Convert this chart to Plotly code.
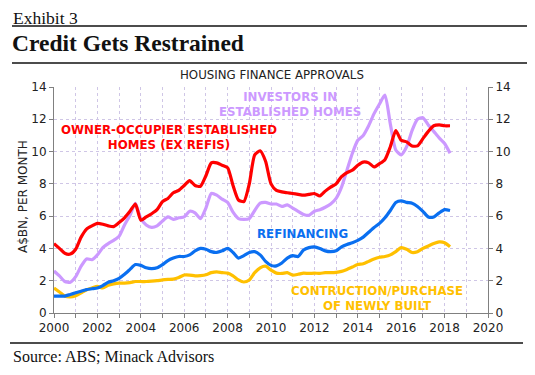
import plotly.graph_objects as go

# ---------------- data (quarterly) ----------------
quarters = [2000 + 0.25 * i for i in range(74)]  # 2000.00 ... 2018.25

owner_occupier = [4.3, 4.0, 3.7, 3.65, 3.95, 4.7, 5.2, 5.4, 5.55, 5.5, 5.4, 5.35,
                  5.6, 5.9, 6.3, 6.75, 5.75, 5.95, 6.15, 6.4, 6.9, 7.1, 7.45, 7.6,
                  7.9, 8.2, 7.9, 7.85, 8.5, 9.3, 9.3, 9.15, 9.0, 7.9, 7.0, 6.9,
                  8.0, 9.8, 10.05, 9.4, 8.0, 7.6, 7.5, 7.45, 7.4, 7.35, 7.3, 7.35,
                  7.4, 7.25, 7.55, 7.8, 8.0, 8.45, 8.7, 8.85, 9.15, 9.35, 9.3, 9.05,
                  9.25, 9.5, 10.3, 11.3, 10.7, 10.6, 10.35, 10.35, 10.8, 11.25, 11.6, 11.65,
                  11.6, 11.6]

investors = [2.6, 2.3, 1.95, 1.9, 2.25, 2.9, 3.35, 3.3, 3.6, 4.05, 4.3, 4.5,
             4.75, 5.45, 6.05, 6.8, 5.85, 5.45, 5.3, 5.4, 5.7, 5.95, 5.8, 5.9,
             5.95, 6.3, 6.2, 5.85, 6.5, 7.4, 7.3, 7.05, 6.85, 6.25, 5.85, 5.8,
             5.85, 6.35, 6.8, 6.85, 6.75, 6.75, 6.6, 6.7, 6.5, 6.3, 6.1, 6.05,
             6.3, 6.4, 6.55, 6.75, 7.1, 7.8, 8.85, 9.9, 10.7, 11.0, 11.6, 12.35,
             12.95, 13.5, 11.7, 10.1, 9.8, 10.3, 11.3, 12.0, 12.1, 11.65, 11.25, 10.85,
             10.5, 9.9]

refinancing = [1.05, 1.05, 1.05, 1.15, 1.25, 1.35, 1.45, 1.5, 1.55, 1.7, 1.9, 2.0,
               2.15, 2.4, 2.7, 3.0, 2.95, 2.8, 2.75, 2.8, 3.0, 3.25, 3.4, 3.5,
               3.5, 3.6, 3.85, 4.0, 3.95, 3.8, 3.75, 3.85, 4.0, 3.75, 3.4, 3.55,
               3.75, 3.8, 3.6, 3.2, 2.95, 2.92, 3.1, 3.4, 3.55, 3.5, 3.9, 4.05,
               4.1, 4.0, 3.85, 3.8, 3.85, 4.1, 4.25, 4.35, 4.5, 4.7, 5.0, 5.3,
               5.55, 5.9, 6.35, 6.85, 6.95, 6.85, 6.8, 6.6, 6.3, 5.95, 5.95, 6.2,
               6.4, 6.35]

construction = [1.55, 1.3, 1.05, 1.0, 1.07, 1.25, 1.44, 1.55, 1.65, 1.55, 1.72, 1.8,
                1.85, 1.85, 1.88, 1.95, 1.95, 1.95, 1.97, 2.0, 2.05, 2.08, 2.1, 2.2,
                2.35, 2.35, 2.3, 2.32, 2.37, 2.5, 2.55, 2.5, 2.47, 2.3, 2.05, 1.92,
                2.05, 2.5, 2.8, 2.9, 2.65, 2.47, 2.45, 2.5, 2.35, 2.4, 2.47, 2.45,
                2.47, 2.45, 2.5, 2.5, 2.52, 2.58, 2.7, 2.85, 3.0, 3.05, 3.2, 3.35,
                3.45, 3.5, 3.6, 3.8, 4.05, 3.95, 3.75, 3.8, 4.0, 4.15, 4.3, 4.4,
                4.35, 4.1]

year_ticks = list(range(2000, 2021))
year_labels = [str(y) if y % 2 == 0 else "" for y in year_ticks]
y_ticks = [0, 2, 4, 6, 8, 10, 12, 14]

series_names = ["Owner-occupier established homes (ex refis)",
                "Investors in established homes",
                "Refinancing",
                "Construction/purchase of newly built"]

RED = "#FF0000"
PURPLE = "#CC99FF"
BLUE = "#0A6FF0"
YELLOW = "#FFC000"

# ---------------- geometry helpers (page pixels; body has 8px margin) ----------------
OFF = 8
W, H = 535 - OFF, 375 - OFF
L, R, T, B = 54, 488, 87, 313
PW, PH = R - L, B - T


def px(x):
    return (x - L) / PW


def py(y):
    return (B - y) / PH


fig = go.Figure()

for vals, col, name in [(investors, PURPLE, series_names[1]),
                        (construction, YELLOW, series_names[3]),
                        (refinancing, BLUE, series_names[2]),
                        (owner_occupier, RED, series_names[0])]:
    fig.add_trace(go.Scatter(x=quarters, y=vals, mode="lines", name=name,
                             line=dict(color=col, width=3.2, shape="spline", smoothing=0.6),
                             hoverinfo="x+y"))

# invisible trace to activate the right axis
fig.add_trace(go.Scatter(x=quarters, y=owner_occupier, yaxis="y2", mode="lines",
                         line=dict(color="rgba(0,0,0,0)", width=0), showlegend=False,
                         hoverinfo="skip"))

AXC = "#808080"
GRID = "#CFC6E6"
tickfont = dict(family="DejaVu Sans", size=12, color="#222222")

fig.update_layout(
    width=W, height=H,
    margin=dict(l=L - OFF, r=W - (R - OFF), t=T - OFF, b=H - (B - OFF)),
    paper_bgcolor="white", plot_bgcolor="white",
    showlegend=False,
    xaxis=dict(range=[2000, 2020], tickvals=year_ticks, ticktext=year_labels,
               showgrid=True, gridcolor=GRID, griddash="dot", gridwidth=1,
               showline=True, linecolor=AXC, linewidth=1,
               ticks="outside", ticklen=4, tickcolor=AXC, tickfont=tickfont,
               zeroline=False),
    yaxis=dict(range=[0, 14], tickvals=y_ticks,
               showgrid=True, gridcolor=GRID, griddash="dot", gridwidth=1,
               showline=True, linecolor=AXC, linewidth=1,
               ticks="outside", ticklen=4, tickcolor=AXC, tickfont=tickfont,
               zeroline=False),
    yaxis2=dict(range=[0, 14], tickvals=y_ticks, overlaying="y", side="right",
                showgrid=False, showline=True, linecolor=AXC, linewidth=1,
                ticks="outside", ticklen=4, tickcolor=AXC, tickfont=tickfont,
                zeroline=False),
)

annotations = [
    dict(text="Exhibit 3", x=px(11), y=py(17.5), xanchor="left", yanchor="middle",
         font=dict(family="Liberation Serif", size=17.5, color="#111111")),
    dict(text="<b>Credit Gets Restrained</b>", x=px(10), y=py(43), xanchor="left", yanchor="middle",
         font=dict(family="Liberation Serif", size=23.5, color="#111111")),
    dict(text="HOUSING FINANCE APPROVALS", x=px(272), y=py(74.5), xanchor="center", yanchor="middle",
         font=dict(family="DejaVu Sans", size=11.8, color="#222222")),
    dict(text="A$BN, PER MONTH", x=px(23), y=py(197), xanchor="center", yanchor="middle",
         textangle=-90, font=dict(family="DejaVu Sans", size=12, color="#222222")),
    dict(text="Source: ABS; Minack Advisors", x=px(11), y=py(356), xanchor="left", yanchor="middle",
         font=dict(family="Liberation Serif", size=16, color="#111111")),
    dict(text="<b>OWNER-OCCUPIER ESTABLISHED<br>HOMES (EX REFIS)</b>", x=px(169), y=py(137),
         xanchor="center", yanchor="middle",
         font=dict(family="DejaVu Sans", size=11.8, color=RED)),
    dict(text="<b>INVESTORS IN<br>ESTABLISHED HOMES</b>", x=px(290), y=py(104),
         xanchor="center", yanchor="middle",
         font=dict(family="DejaVu Sans", size=11.8, color=PURPLE)),
    dict(text="<b>REFINANCING</b>", x=px(302), y=py(234),
         xanchor="center", yanchor="middle",
         font=dict(family="DejaVu Sans", size=11.8, color=BLUE)),
    dict(text="<b>CONTRUCTION/PURCHASE<br>OF NEWLY BUILT</b>", x=px(377), y=py(298),
         xanchor="center", yanchor="middle",
         font=dict(family="DejaVu Sans", size=11.8, color=YELLOW)),
]
for a in annotations:
    a.update(xref="paper", yref="paper", showarrow=False)
fig.update_layout(annotations=annotations)

shapes = []
for (x0, x1, yy) in [(12, 528, 26), (12, 528, 63), (10, 523, 343)]:
    shapes.append(dict(type="line", xref="paper", yref="paper",
                       x0=px(x0), x1=px(x1), y0=py(yy), y1=py(yy),
                       line=dict(color="#111111", width=1.5)))
fig.update_layout(shapes=shapes)

fig.write_html("out.html")
